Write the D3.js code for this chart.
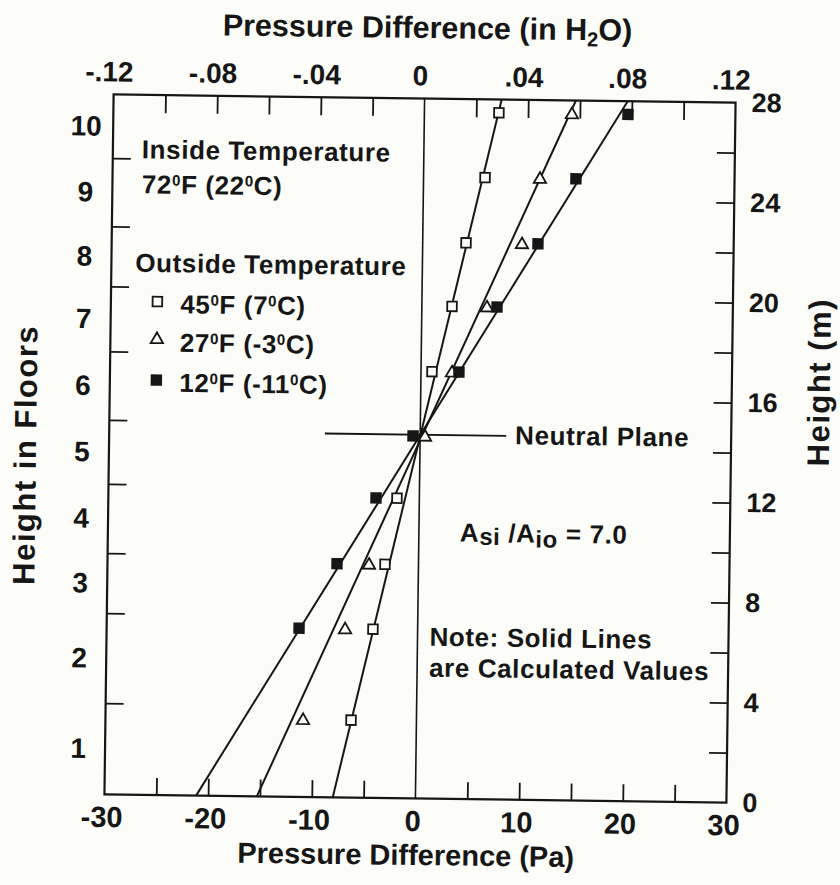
<!DOCTYPE html>
<html>
<head>
<meta charset="utf-8">
<script src="https://cdn.jsdelivr.net/npm/d3@7"></script>
<style>
  html, body { margin: 0; padding: 0; background: #fcfcf8; }
  svg text { font-family: "Liberation Sans", Arial, Helvetica, sans-serif; font-weight: bold; fill: #161616; }
</style>
</head>
<body>
<script>
// heights (m) at which the measurements were taken
const measureHeights = [3.1, 6.75, 9.35, 12.0, 14.5, 17.08, 19.7, 22.25, 24.87, 27.47];
// measured pressure differences (Pa), null = no symbol
const dp45 = [-6.31, -4.31, -3.23, -2.16, null, 1.06, 2.91, 4.18, 5.93, 7.19];
const dp27 = [-10.94, -7.0, -4.77, null, 0.47, 2.99, 6.28, 9.58, 11.23, 14.23];
const dp12 = [null, -11.44, -7.86, -4.18, -0.69, 3.66, 7.25, 11.12, 14.7, 19.64];
// calculated lines: value at ground (0 m) and at roof (28 m)
const calcGround = [-7.98, -15.3, -21.16];
const calcRoof = [7.44, 14.6, 19.6];
const seriesNames = ["45°F (7°C)", "27°F (-3°C)", "12°F (-11°C)"];
const seriesSymbols = ["open-square", "open-triangle", "filled-square"];
// neutral plane
const neutralHeight = 14.55;
const neutralSpan = [-9.2, 8.3];
// axes
const paTicks = [-25, -20, -15, -10, -5, 5, 10, 15, 20, 25];
const paLabels = [-30, -20, -10, 0, 10, 20, 30];
const inH2OTicks = [-0.10, -0.08, -0.06, -0.04, -0.02, 0.02, 0.04, 0.06, 0.08, 0.10];
const inH2OLabels = [-0.12, -0.08, -0.04, 0, 0.04, 0.08, 0.12];
const meterTicks = [2, 4, 6, 8, 10, 12, 14, 16, 18, 20, 22, 24, 26];
const meterLabels = [0, 4, 8, 12, 16, 20, 24, 28];
const floorBounds = [0, 3.65, 7.25, 9.65, 12.42, 14.98, 17.72, 20.32, 22.72, 25.45, 28];
const floorLabels = ["1", "2", "3", "4", "5", "6", "7", "8", "9", "10"];

const ink = "#161616";
const paper = "#fcfcf8";
const W = 840, H = 885;
const frame = {left: 109, right: 731, top: 98.5, bottom: 798.5};

const svg = d3.select("body").append("svg").attr("width", W).attr("height", H);
svg.append("rect").attr("width", W).attr("height", H).attr("fill", paper);
// the scanned figure sits slightly turned
const g = svg.append("g").attr("transform", "rotate(0.75, 419.75, 448.5)");

const x = d3.scaleLinear().domain([-30, 30]).range([frame.left, frame.right]);
const xTop = d3.scaleLinear().domain([-0.12, 0.12]).range([frame.left, frame.right]);
const y = d3.scaleLinear().domain([0, 28]).range([frame.bottom, frame.top]);

const fmtH2O = d => d === 0 ? "0" : (d < 0 ? "-" : "") + d3.format(".2f")(Math.abs(d)).replace(/^0/, "");
const fmtInt = d => String(d);

function styleAxis(sel, size) {
  sel.select(".domain").remove();
  sel.selectAll(".tick line").attr("stroke", ink).attr("stroke-width", 1.8);
  sel.selectAll(".tick text").attr("font-size", size).attr("fill", ink)
    .attr("font-family", null).style("font-weight", "bold");
}

// tick marks (inward)
g.append("g").attr("transform", `translate(0,${frame.bottom})`)
  .call(d3.axisBottom(x).tickValues(paTicks).tickSize(-17).tickFormat(""))
  .call(s => styleAxis(s, 0));
g.append("g").attr("transform", `translate(0,${frame.top})`)
  .call(d3.axisTop(xTop).tickValues(inH2OTicks).tickSize(-18).tickFormat(""))
  .call(s => styleAxis(s, 0));
g.append("g").attr("transform", `translate(${frame.left},0)`)
  .call(d3.axisLeft(y).tickValues(floorBounds.slice(1, -1)).tickSize(-18).tickFormat(""))
  .call(s => styleAxis(s, 0));
g.append("g").attr("transform", `translate(${frame.right},0)`)
  .call(d3.axisRight(y).tickValues(meterTicks).tickSize(-18).tickFormat(""))
  .call(s => styleAxis(s, 0));

// tick labels
g.append("g").attr("transform", `translate(0,${frame.bottom})`)
  .call(d3.axisBottom(x).tickValues(paLabels).tickSize(0).tickPadding(12).tickFormat(fmtInt))
  .call(s => styleAxis(s, 29))
  .call(s => s.selectAll(".tick text").attr("x", -3));
g.append("g").attr("transform", `translate(0,${frame.top})`)
  .call(d3.axisTop(xTop).tickValues(inH2OLabels).tickSize(0).tickPadding(13).tickFormat(fmtH2O))
  .call(s => styleAxis(s, 28))
  .call(s => s.selectAll(".tick text").attr("x", -5));
g.append("g").attr("transform", `translate(${frame.right},0)`)
  .call(d3.axisRight(y).tickValues(meterLabels).tickSize(0).tickPadding(16).tickFormat(fmtInt))
  .call(s => styleAxis(s, 27));
const floorMids = floorLabels.map((f, i) => (floorBounds[i] + floorBounds[i + 1]) / 2);
g.append("g").attr("transform", `translate(${frame.left},0)`)
  .call(d3.axisLeft(y).tickValues(floorMids).tickSize(0).tickFormat((d, i) => floorLabels[i]))
  .call(s => styleAxis(s, 28))
  .call(s => s.selectAll(".tick text").attr("text-anchor", "middle").attr("x", -27));

// frame and zero line
g.append("rect")
  .attr("x", frame.left).attr("y", frame.top)
  .attr("width", frame.right - frame.left).attr("height", frame.bottom - frame.top)
  .attr("fill", "none").attr("stroke", ink).attr("stroke-width", 2.2);
g.append("line")
  .attr("x1", x(0)).attr("x2", x(0)).attr("y1", y(0)).attr("y2", y(28))
  .attr("stroke", ink).attr("stroke-width", 1.6);

// neutral plane
g.append("line")
  .attr("x1", x(neutralSpan[0])).attr("x2", x(neutralSpan[1]))
  .attr("y1", y(neutralHeight)).attr("y2", y(neutralHeight))
  .attr("stroke", ink).attr("stroke-width", 1.8);

// calculated lines
const line = d3.line().x(d => x(d[1])).y(d => y(d[0]));
calcGround.forEach((v, i) => {
  g.append("path")
    .attr("d", line([[0, v], [28, calcRoof[i]]]))
    .attr("fill", "none").attr("stroke", ink).attr("stroke-width", 2);
});

// markers
function drawSymbol(sel, kind, cx, cy) {
  if (kind === "open-triangle") {
    sel.append("path")
      .attr("d", d3.symbol(d3.symbolTriangle, 66)())
      .attr("transform", `translate(${cx},${cy + 1})`)
      .attr("fill", paper).attr("stroke", ink).attr("stroke-width", 1.8);
  } else {
    sel.append("path")
      .attr("d", d3.symbol(d3.symbolSquare, 92)())
      .attr("transform", `translate(${cx},${cy})`)
      .attr("fill", kind === "filled-square" ? ink : paper)
      .attr("stroke", ink).attr("stroke-width", 1.8);
  }
}
[dp45, dp27, dp12].forEach((vals, i) => {
  const mg = g.append("g");
  vals.forEach((v, j) => {
    if (v === null) return;
    drawSymbol(mg, seriesSymbols[i], x(v), y(measureHeights[j]));
  });
});

// text with superscript degree "0"
function degText(sel, str, size) {
  const parts = str.split("°");
  parts.forEach((p, i) => {
    if (i > 0) {
      sel.append("tspan").attr("font-size", size * 0.58).attr("dy", -size * 0.32).text("0");
      sel.append("tspan").attr("dy", size * 0.32).text(p);
    } else {
      sel.append("tspan").text(p);
    }
  });
}

const fs = 26;
const note = (xp, yp) => g.append("text").attr("x", xp).attr("y", yp)
  .attr("font-size", fs).attr("letter-spacing", 0.6);

note(138, 162).text("Inside Temperature");
degText(note(138.5, 197), "72°F (22°C)", fs);
note(133, 275.5).text("Outside Temperature");
const legendY = [305, 342, 383.5];
const legendTextY = [316.5, 355, 395];
seriesNames.forEach((name, i) => {
  drawSymbol(g, seriesSymbols[i], 155.5, legendY[i]);
  degText(note(178.5, legendTextY[i]), name, fs);
});

note(515, 443).text("Neutral Plane");

const ratio = note(461, 541);
ratio.append("tspan").text("A");
ratio.append("tspan").attr("font-size", 24).attr("dy", 3).text("si");
ratio.append("tspan").attr("dy", -3).text(" /A");
ratio.append("tspan").attr("font-size", 24).attr("dy", 5).text("io");
ratio.append("tspan").attr("dy", -5).text(" = 7.0");

note(432, 645.5).text("Note: Solid Lines");
note(432, 676.5).text("are Calculated Values");

// axis titles
const topTitle = g.append("text").attr("x", 422).attr("y", 38).attr("font-size", 30.5).attr("text-anchor", "middle");
topTitle.append("tspan").text("Pressure Difference (in H");
topTitle.append("tspan").attr("font-size", 20).attr("dy", 6).text("2");
topTitle.append("tspan").attr("dy", -6).text("O)");
g.append("text").attr("x", 411).attr("y", 865).attr("font-size", 29).attr("text-anchor", "middle")
  .text("Pressure Difference (Pa)");
g.append("text").attr("transform", "translate(36,460) rotate(-90)").attr("font-size", 31)
  .attr("letter-spacing", 1.5).attr("text-anchor", "middle").text("Height in Floors");
g.append("text").attr("transform", "translate(829,377) rotate(-90)").attr("font-size", 31)
  .attr("letter-spacing", 1.5).attr("text-anchor", "middle").text("Height (m)");
</script>
</body>
</html>
